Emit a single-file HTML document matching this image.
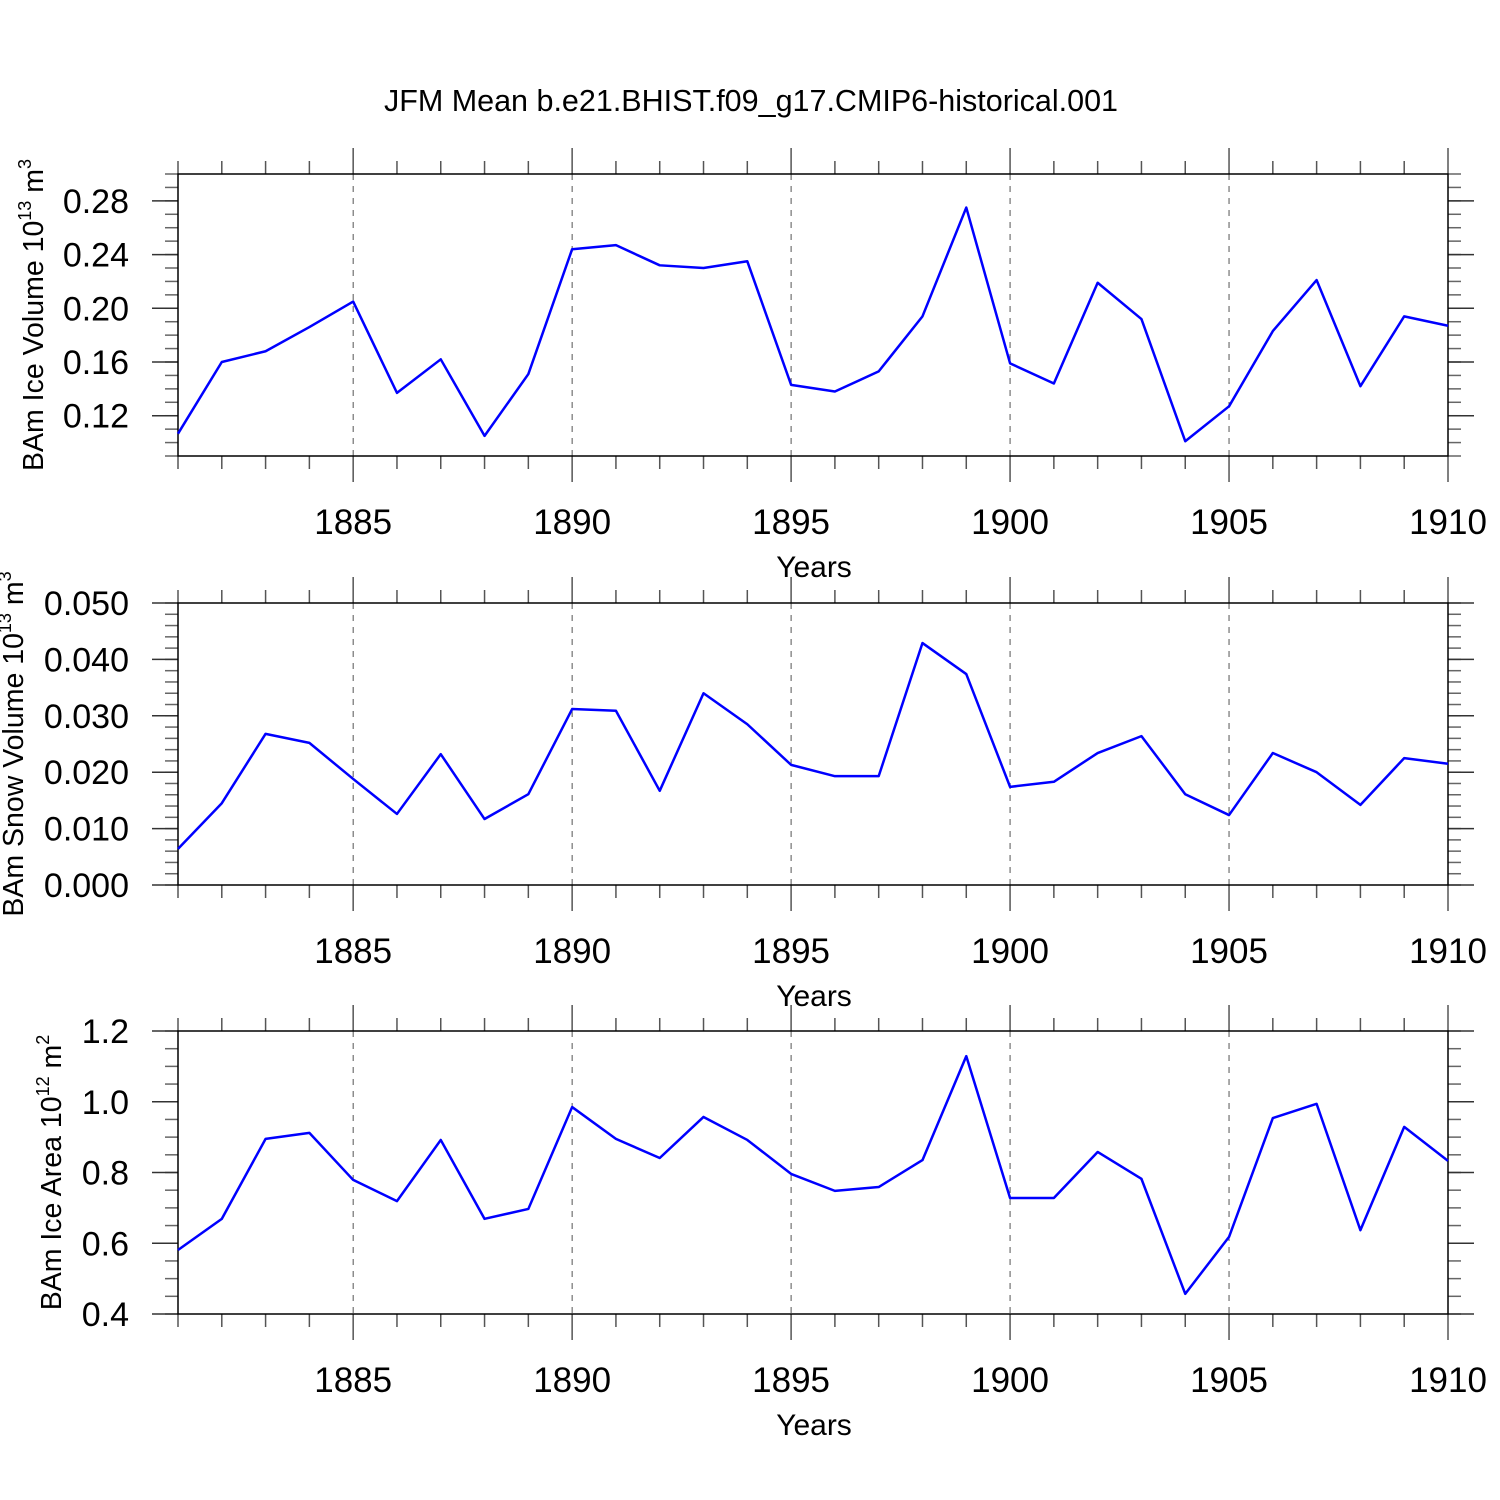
<!DOCTYPE html>
<html><head><meta charset="utf-8"><style>body{margin:0;background:#fff}svg{display:block}text{font-family:"Liberation Sans",sans-serif;fill:#000}</style></head>
<body>
<svg id="c" width="1500" height="1500" viewBox="0 0 1500 1500">
<text x="751" y="111" font-size="30.5" text-anchor="middle">JFM Mean b.e21.BHIST.f09_g17.CMIP6-historical.001</text>
</svg>
<script>
const years = [1881,1882,1883,1884,1885,1886,1887,1888,1889,1890,1891,1892,1893,1894,1895,1896,1897,1898,1899,1900,1901,1902,1903,1904,1905,1906,1907,1908,1909,1910];
const iceVolume = [0.1066,0.160,0.168,0.186,0.205,0.137,0.162,0.105,0.151,0.244,0.247,0.232,0.230,0.235,0.143,0.138,0.153,0.194,0.275,0.159,0.144,0.219,0.192,0.101,0.127,0.183,0.221,0.142,0.194,0.187];
const snowVolume = [0.0064,0.0145,0.0268,0.0252,0.0188,0.0126,0.0232,0.0117,0.0161,0.0312,0.0309,0.0167,0.0340,0.0285,0.0213,0.0193,0.0193,0.0429,0.0374,0.0174,0.0183,0.0234,0.0264,0.0161,0.0124,0.0234,0.0200,0.0142,0.0225,0.0215];
const iceArea = [0.581,0.669,0.895,0.912,0.779,0.719,0.892,0.669,0.697,0.985,0.895,0.841,0.957,0.892,0.796,0.748,0.759,0.835,1.129,0.728,0.728,0.858,0.782,0.457,0.618,0.954,0.994,0.637,0.929,0.833];
const xTickLabels = [1885,1890,1895,1900,1905,1910];
const iceVolTicks = [0.12,0.16,0.20,0.24,0.28];
const snowTicks = [0.000,0.010,0.020,0.030,0.040,0.050];
const areaTicks = [0.4,0.6,0.8,1.0,1.2];

const svg = document.getElementById('c');
const NS = 'http://www.w3.org/2000/svg';
function mk(tag, attrs, parent){const e=document.createElementNS(NS,tag);for(const k in attrs)e.setAttribute(k,attrs[k]);(parent||svg).appendChild(e);return e;}
const X0=178, X1=1448;
const xs = y => X0 + (y-1881)/(1910-1881)*(X1-X0);

function panel(id, top, bot, ymin, ymax, vals, ticks, dec, minorStep, title, unit, titleX){
  const g = mk('g',{});
  
  
  const ys = v => bot - (v-ymin)/(ymax-ymin)*(bot-top);
  xTickLabels.forEach(y=>{ if(y<1910) mk('line',{x1:xs(y),x2:xs(y),y1:top,y2:bot,stroke:'#555','stroke-width':1,'stroke-dasharray':'6,6'},g); });
  years.forEach(y=>{
    const maj = xTickLabels.includes(y);
    const L = maj?26:13;
    mk('line',{x1:xs(y),x2:xs(y),y1:top-L,y2:top,stroke:'#555','stroke-width':1.5},g);
    mk('line',{x1:xs(y),x2:xs(y),y1:bot,y2:bot+L,stroke:'#555','stroke-width':1.5},g);
  });
  const n = Math.round((ymax-ymin)/minorStep);
  for(let i=0;i<=n;i++){
    const v = ymin+i*minorStep, yy=ys(v);
    mk('line',{x1:X0-13,x2:X0,y1:yy,y2:yy,stroke:'#666','stroke-width':1.5},g);
    mk('line',{x1:X1,x2:X1+13,y1:yy,y2:yy,stroke:'#666','stroke-width':1.5},g);
  }
  ticks.forEach(v=>{
    const yy=ys(v);
    mk('line',{x1:X0-26,x2:X0,y1:yy,y2:yy,stroke:'#333','stroke-width':1.5},g);
    mk('line',{x1:X1,x2:X1+26,y1:yy,y2:yy,stroke:'#333','stroke-width':1.5},g);
    const t = mk('text',{x:129,y:yy+12,'font-size':34,'text-anchor':'end'},g);
    t.textContent = v.toFixed(dec);
    
    
  });
  xTickLabels.forEach(y=>{
    const t = mk('text',{x:xs(y),y:bot+78,'font-size':35,'text-anchor':'middle'},g);
    t.textContent = y;
    
    
  });
  const xt = mk('text',{x:814,y:bot+121,'font-size':30,'text-anchor':'middle'},g);
  xt.textContent='Years';
  
  
  const cy=(top+bot)/2;
  const yt = mk('text',{x:0,y:0,'font-size':28.5,'text-anchor':'middle',transform:`translate(${titleX},${cy}) rotate(-90)`},g);
  yt.innerHTML = title+' 10<tspan dy="-12" font-size="18">'+unit[0]+'</tspan><tspan dy="12"> m</tspan><tspan dy="-12" font-size="18">'+unit[1]+'</tspan>';
  
  
  mk('rect',{x:X0,y:top,width:X1-X0,height:bot-top,fill:'none',stroke:'#000','stroke-width':1.5},g);
  const line = mk('polyline',{points:vals.map((v,i)=>xs(years[i])+','+ys(v)).join(' '),fill:'none',stroke:'#0000ff','stroke-width':2.5,'stroke-linejoin':'round'},g);
  
  
}
panel('ice-volume',174,456,0.09,0.30,iceVolume,iceVolTicks,2,0.01,'BAm Ice Volume',['13','3'],43);
panel('snow-volume',603,885,0,0.05,snowVolume,snowTicks,3,0.002,'BAm Snow Volume',['13','3'],23);
panel('ice-area',1031,1314,0.4,1.2,iceArea,areaTicks,1,0.05,'BAm Ice Area',['12','2'],61);
</script>
</body></html>
